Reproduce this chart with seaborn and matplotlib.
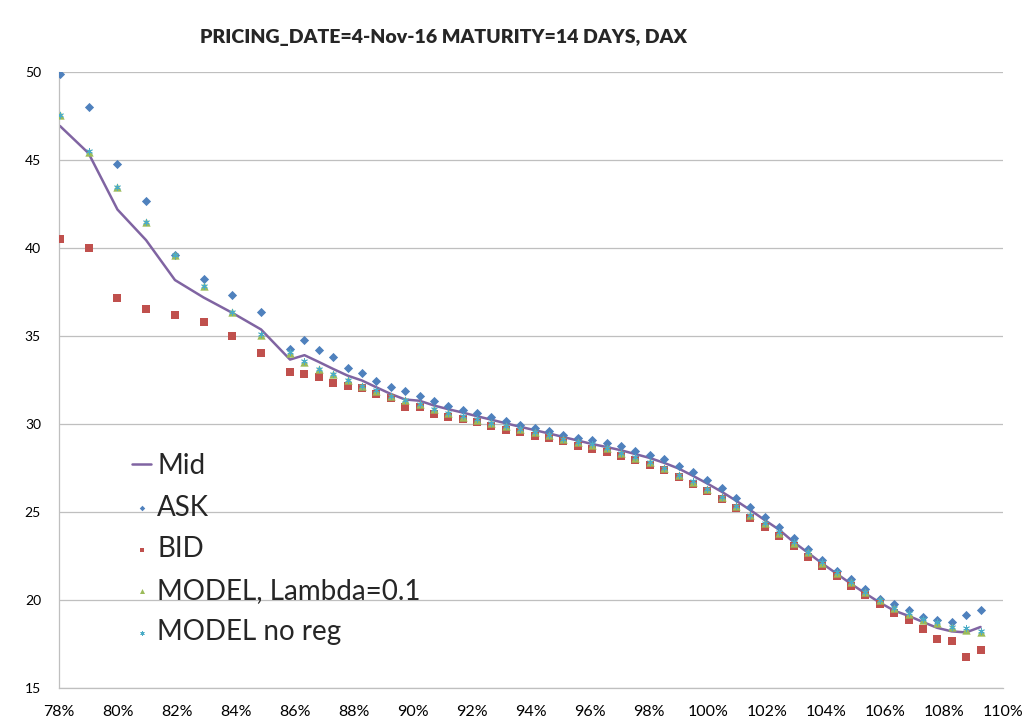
import pandas as pd
import seaborn as sns
import matplotlib.pyplot as plt
from matplotlib.ticker import FuncFormatter, MultipleLocator

# === DATA ===
# moneyness in % of spot (strikes 8000..8700 by 100, 8800..11200 by 50)
moneyness = [78.03, 79.00, 79.98, 80.95, 81.93, 82.90, 83.88, 84.85,
             85.83, 86.32, 86.80, 87.29, 87.78, 88.27, 88.75, 89.24, 89.73,
             90.22, 90.71, 91.19, 91.68, 92.17, 92.66, 93.14, 93.63, 94.12,
             94.61, 95.09, 95.58, 96.07, 96.56, 97.04, 97.53, 98.02, 98.51,
             99.00, 99.48, 99.97, 100.46, 100.95, 101.43, 101.92, 102.41,
             102.90, 103.38, 103.87, 104.36, 104.85, 105.33, 105.82, 106.31,
             106.80, 107.29, 107.77, 108.26, 108.75, 109.24]

ask = [49.90, 48.00, 44.77, 42.68, 39.60, 38.27, 37.36, 36.36,
       34.25, 34.78, 34.23, 33.82, 33.20, 32.88, 32.48, 32.12, 31.86,
       31.60, 31.32, 31.04, 30.83, 30.65, 30.40, 30.16, 29.96, 29.77,
       29.60, 29.39, 29.23, 29.11, 28.93, 28.73, 28.49, 28.25, 28.00,
       27.64, 27.26, 26.84, 26.35, 25.82, 25.28, 24.74, 24.16,
       23.52, 22.90, 22.26, 21.66, 21.18, 20.60, 20.05, 19.77,
       19.42, 19.02, 18.84, 18.75, 19.17, 19.43]

bid = [40.54, 40.03, 37.18, 36.54, 36.20, 35.82, 35.00, 34.06,
       32.97, 32.87, 32.66, 32.33, 32.18, 32.04, 31.70, 31.46, 30.98,
       31.00, 30.60, 30.38, 30.32, 30.12, 29.89, 29.67, 29.53, 29.32,
       29.19, 29.02, 28.75, 28.61, 28.42, 28.17, 27.96, 27.67, 27.37,
       27.00, 26.62, 26.21, 25.72, 25.25, 24.69, 24.17, 23.63,
       23.06, 22.45, 21.93, 21.35, 20.81, 20.30, 19.77, 19.27,
       18.87, 18.38, 17.79, 17.65, 16.79, 17.14]

model_lambda = [47.57, 45.49, 43.46, 41.49, 39.59, 37.87, 36.35, 35.09,
                34.07, 33.56, 33.14, 32.86, 32.52, 32.14, 31.91, 31.59, 31.38,
                31.12, 30.84, 30.63, 30.43, 30.26, 30.05, 29.88, 29.70, 29.53,
                29.39, 29.14, 28.99, 28.84, 28.65, 28.36, 28.10, 27.83, 27.50,
                27.11, 26.73, 26.32, 25.87, 25.36, 24.85, 24.36, 23.83,
                23.27, 22.72, 22.13, 21.56, 21.03, 20.46, 19.98, 19.54,
                19.22, 18.86, 18.71, 18.44, 18.31, 18.20]

model_noreg = [47.60, 45.52, 43.48, 41.50, 39.60, 37.88, 36.36, 35.10,
               34.09, 33.58, 33.16, 32.87, 32.53, 32.15, 31.92, 31.60, 31.39,
               31.13, 30.85, 30.64, 30.44, 30.27, 30.06, 29.89, 29.71, 29.54,
               29.40, 29.15, 29.00, 28.85, 28.66, 28.37, 28.11, 27.84, 27.51,
               27.12, 26.74, 26.33, 25.88, 25.37, 24.86, 24.37, 23.84,
               23.28, 22.73, 22.14, 21.57, 21.04, 20.47, 19.99, 19.56,
               19.24, 18.90, 18.74, 18.48, 18.42, 18.26]

mid = [46.95, 45.40, 42.20, 40.46, 38.19, 37.20, 36.32, 35.38,
       33.67, 33.92, 33.54, 33.14, 32.76, 32.48, 32.10, 31.72, 31.40,
       31.33, 31.06, 30.85, 30.66, 30.45, 30.25, 30.05, 29.85, 29.66,
       29.47, 29.27, 29.07, 28.87, 28.70, 28.52, 28.30, 28.08, 27.80,
       27.48, 27.07, 26.63, 26.16, 25.65, 25.12, 24.55, 24.00,
       23.30, 22.70, 22.08, 21.50, 20.92, 20.38, 19.86, 19.40,
       19.10, 18.75, 18.42, 18.22, 18.16, 18.47]

# === STYLE ===
sns.set_style("white")
plt.rcParams['font.family'] = ['Lato', 'DejaVu Sans']

fig = plt.figure(figsize=(10.34, 7.23), dpi=100)
ax = fig.add_axes([0.0571, 0.0484, 0.9129, 0.8516])

x = [m / 100 for m in moneyness]

sns.lineplot(x=x, y=mid, ax=ax, color="#8064A2", linewidth=1.8, label="Mid", zorder=2)
sns.scatterplot(x=x, y=ask, ax=ax, marker="D", s=22, color="#4F81BD", linewidth=0, label="ASK", zorder=3)
sns.scatterplot(x=x, y=bid, ax=ax, marker="s", s=30, color="#C0504D", linewidth=0, label="BID", zorder=3)
sns.scatterplot(x=x, y=model_lambda, ax=ax, marker="^", s=36, color="#9BBB59", linewidth=0,
                label="MODEL, Lambda=0.1", zorder=4)
sns.scatterplot(x=x, y=model_noreg, ax=ax, marker=(6, 2, 0), s=20, color="#4BACC6", linewidth=0.6,
                label="MODEL no reg", zorder=5)

ax.set_xlim(0.78, 1.10)
ax.set_ylim(15, 50)
ax.xaxis.set_major_locator(MultipleLocator(0.02))
ax.yaxis.set_major_locator(MultipleLocator(5))
ax.xaxis.set_major_formatter(FuncFormatter(lambda v, p: f"{v * 100:.0f}%"))
ax.set_xlabel("")
ax.set_ylabel("")

ax.grid(axis="y", color="#BFBFBF", linewidth=0.9)
ax.grid(axis="x", visible=False)
for side in ["top", "right"]:
    ax.spines[side].set_visible(False)
for side in ["left", "bottom"]:
    ax.spines[side].set_color("#BFBFBF")
    ax.spines[side].set_linewidth(0.9)
ax.tick_params(axis="y", length=0, pad=13, labelsize=10, colors="#000000")
ax.tick_params(axis="x", length=0, pad=12, labelsize=11.5, colors="#000000")

fig.text(443 / 1034, 1 - 38 / 723, "PRICING_DATE=4-Nov-16 MATURITY=14 DAYS, DAX",
         ha="center", va="center", fontsize=14, fontweight="heavy")

leg = ax.legend(loc="upper left", bbox_to_anchor=(132 / 1034, 1 - 453 / 723),
                bbox_transform=fig.transFigure, frameon=False, fontsize=20,
                handlelength=0.7, handletextpad=0.2, labelspacing=0.56,
                borderpad=0, borderaxespad=0, markerscale=0.6)

plt.savefig("out.png", dpi=100)
plt.close()
